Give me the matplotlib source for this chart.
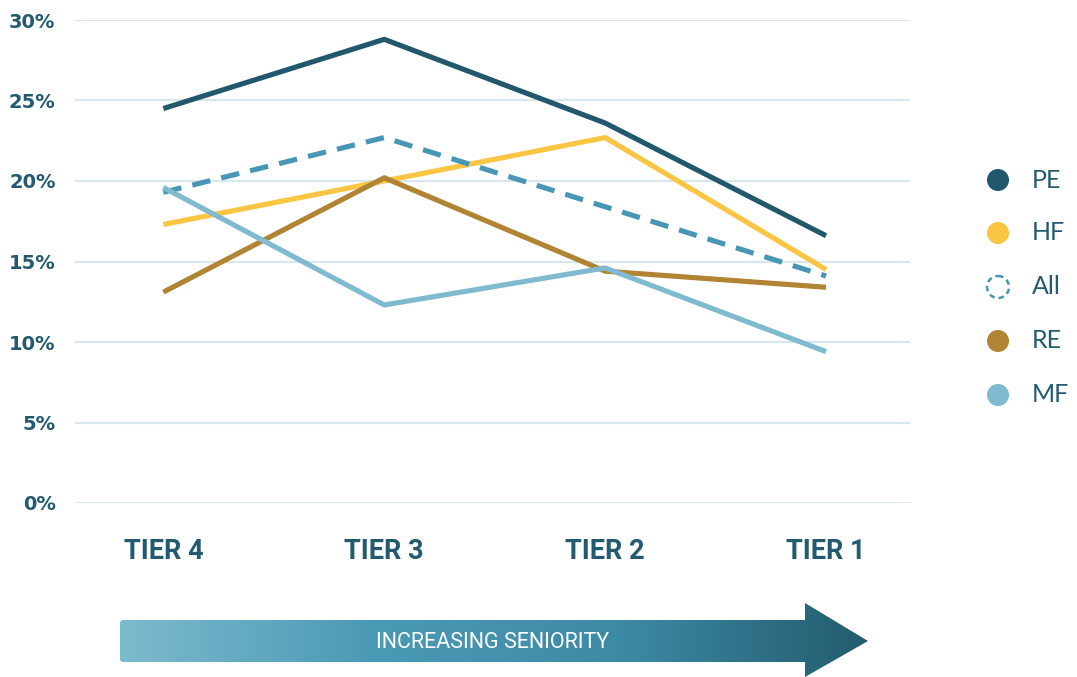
import numpy as np
import matplotlib
matplotlib.use("Agg")
import matplotlib.pyplot as plt
from matplotlib.patches import Circle, PathPatch
from matplotlib.path import Path
from matplotlib.colors import LinearSegmentedColormap

tiers = ["TIER 4", "TIER 3", "TIER 2", "TIER 1"]
series_names = ["PE", "HF", "All", "RE", "MF"]
pe = [24.5, 28.8, 23.6, 16.6]
hf = [17.3, 20.0, 22.7, 14.5]
all_ = [19.3, 22.7, 18.4, 14.1]
re = [13.1, 20.2, 14.4, 13.4]
mf = [19.6, 12.3, 14.6, 9.4]
yticks = [0, 5, 10, 15, 20, 25, 30]
ytick_labels = ["0%", "5%", "10%", "15%", "20%", "25%", "30%"]
arrow_label = "INCREASING SENIORITY"

colors = {"PE": "#22586e", "HF": "#fbc544", "All": "#4796b5", "RE": "#b08433", "MF": "#80bad0"}
text_color = "#225a70"
grid_color = "#d8e6ee"

W, H = 1077, 677
fig = plt.figure(figsize=(W / 100, H / 100), dpi=100)

ax = fig.add_axes([75 / W, 1 - 503 / H, (910 - 75) / W, (503 - 20) / H])
ax.set_xlim(-0.4, 3.38)
ax.set_ylim(0, 30)
for s in ax.spines.values():
    s.set_visible(False)
ax.set_yticks(yticks)
ax.set_yticklabels(ytick_labels)
ax.tick_params(axis="y", length=0, pad=14, labelsize=14, labelcolor=text_color)
for lab in ax.get_yticklabels():
    lab.set_fontfamily("DejaVu Sans")
    lab.set_fontweight("bold")
ax.set_xticks(range(len(tiers)))
ax.set_xticklabels(tiers)
ax.tick_params(axis="x", length=0, pad=25, labelsize=19.5, labelcolor=text_color)
for lab in ax.get_xticklabels():
    lab.set_fontfamily("Roboto")
    lab.set_fontweight("bold")
ax.grid(axis="y", color=grid_color, lw=1.5)
ax.set_axisbelow(True)

x = np.arange(len(tiers))
lw = 3.7
ax.plot(x, pe, color=colors["PE"], lw=lw, solid_capstyle="butt", zorder=3)
ax.plot(x, hf, color=colors["HF"], lw=lw, solid_capstyle="butt", zorder=3)
ax.plot(x, all_, color=colors["All"], lw=lw, dashes=(3.6, 2.2), dash_capstyle="butt", zorder=3)
ax.plot(x, re, color=colors["RE"], lw=lw, solid_capstyle="butt", zorder=3)
ax.plot(x, mf, color=colors["MF"], lw=lw, solid_capstyle="butt", zorder=3)

# overlay axes in pixel coordinates for legend and arrow
ov = fig.add_axes([0, 0, 1, 1], zorder=5)
ov.set_xlim(0, W)
ov.set_ylim(H, 0)
ov.axis("off")

leg_y = [180, 233, 287, 341, 395]
for name, yy in zip(series_names, leg_y):
    if name == "All":
        c = Circle((998, yy), 11, facecolor="none", edgecolor=colors[name], lw=1.8, linestyle=(0, (2.2, 1.6)))
    else:
        c = Circle((998, yy), 11, facecolor=colors[name], edgecolor="none")
    ov.add_patch(c)
    ov.text(1032, yy, name, color=text_color, fontsize=18, family="Lato", va="center", ha="left")

# arrow with gradient
verts = [(122, 620), (805, 620), (805, 603), (868, 641), (805, 677), (805, 662), (122, 662), (120, 660), (120, 622), (122, 620)]
codes = [Path.MOVETO] + [Path.LINETO] * (len(verts) - 2) + [Path.CLOSEPOLY]
path = Path(verts, codes)
patch = PathPatch(path, facecolor="none", edgecolor="none")
ov.add_patch(patch)
grad = np.linspace(0, 1, 512).reshape(1, -1)
cmap = LinearSegmentedColormap.from_list("g", ["#7dbacd", "#4b9ab5", "#3d8aa5", "#235c6e"])
im = ov.imshow(grad, extent=(120, 868, 677, 603), aspect="auto", cmap=cmap, interpolation="bicubic", zorder=1)
im.set_clip_path(patch)
ov.set_xlim(0, W)
ov.set_ylim(H, 0)
ov.text(493, 648, arrow_label, color="white", fontsize=15.5, family="Roboto", ha="center", va="baseline", zorder=2)

fig.savefig("out.png", dpi=100)
